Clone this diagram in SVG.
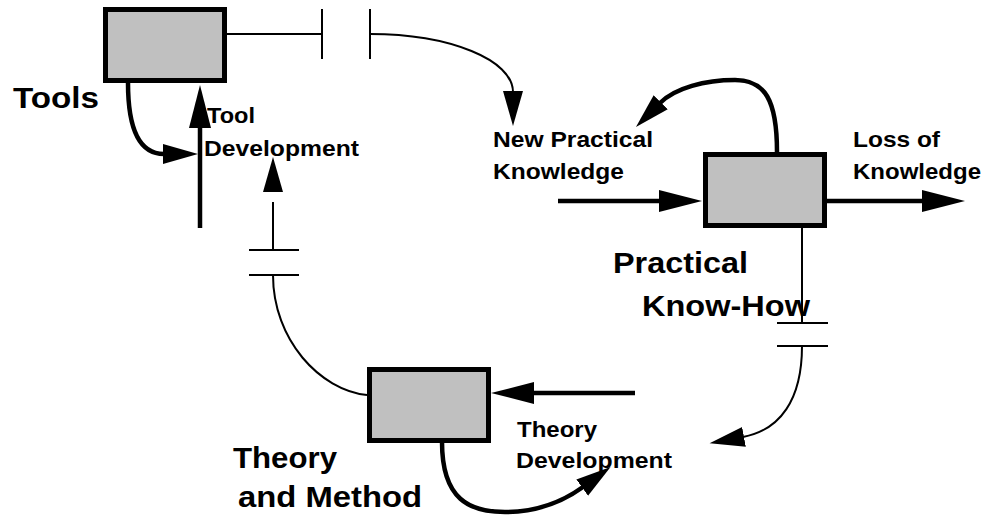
<svg xmlns="http://www.w3.org/2000/svg" width="992" height="520" viewBox="0 0 992 520">
<defs>
<style>
.box{fill:#c0c0c0;stroke:#000;stroke-width:5}
.flow{fill:none;stroke:#000;stroke-width:4.5}
.thin{fill:none;stroke:#000;stroke-width:2}
.tip{fill:#000;stroke:none}
text{font-family:"Liberation Sans",Arial,Helvetica,sans-serif;font-weight:bold;fill:#000}
.big{font-size:29px}
.small{font-size:22px}
</style>
<marker id="hb" markerUnits="userSpaceOnUse" markerWidth="46" markerHeight="24" refX="1" refY="11" orient="auto">
<path d="M0,0 L43,11 L0,22 z" fill="#000"/>
</marker>
<marker id="hs" markerUnits="userSpaceOnUse" markerWidth="38" markerHeight="22" refX="1" refY="10" orient="auto">
<path d="M0,0 L35,10 L0,20 z" fill="#000"/>
</marker>
</defs>
<rect width="992" height="520" fill="#fff"/>

<g id="connectors">
<!-- Tools loop into Tool Development -->
<path class="flow" d="M128,83 C128,135 143,154 164,154" marker-end="url(#hs)"/>
<!-- Tool Development flow -->
<path class="flow" d="M200,228 L200,127" marker-end="url(#hb)"/>
<!-- Tools to New Practical Knowledge (delayed) -->
<path class="thin" d="M227,34 H322 M322,9 V59 M370,9 V59"/>
<path class="thin" d="M370,34 C450,34 513,60 513,92" marker-end="url(#hs)"/>
<!-- inflow into Practical Know-How -->
<path class="flow" d="M558,201 H660" marker-end="url(#hb)"/>
<!-- Loss of Knowledge outflow -->
<path class="flow" d="M827,201 H923" marker-end="url(#hb)"/>
<!-- loop from Practical Know-How to New Practical Knowledge -->
<path class="flow" d="M777,152 C777,100 765,80 735,80 C705,80 675,88 660,103" marker-end="url(#hs)"/>
<!-- Practical Know-How to Theory Development (delayed) -->
<path class="thin" d="M802,227 V323 M777,323 H828 M777,346 H828"/>
<path class="thin" d="M802,346 C802,400 780,430 743,437" marker-end="url(#hs)"/>
<!-- inflow into Theory and Method -->
<path class="flow" d="M635,393 H533" marker-end="url(#hb)"/>
<!-- Theory loop into Theory Development -->
<path class="flow" d="M442,442 C442,500 470,512 505,512 C540,512 565,500 583,487" marker-end="url(#hs)"/>
<!-- Theory and Method to Tool Development (delayed) -->
<path class="thin" d="M367,395 C320,390 273,340 273,275 M249,275 H299 M249,250 H299 M273,250 V202"/>
<polygon class="tip" points="273,157 263,192 283,192"/>
</g>

<g id="tools">
<rect class="box" x="105.5" y="9.5" width="119" height="71"/>
<text class="big" x="13" y="108" textLength="86" lengthAdjust="spacingAndGlyphs">Tools</text>
</g>

<g id="tool-development">
<text class="small" x="207" y="123" textLength="48" lengthAdjust="spacingAndGlyphs">Tool</text>
<text class="small" x="204" y="156" textLength="155" lengthAdjust="spacingAndGlyphs">Development</text>
</g>

<g id="new-practical-knowledge">
<text class="small" x="493" y="147" textLength="160" lengthAdjust="spacingAndGlyphs">New Practical</text>
<text class="small" x="493" y="179" textLength="131" lengthAdjust="spacingAndGlyphs">Knowledge</text>
</g>

<g id="practical-know-how">
<rect class="box" x="705.5" y="154.5" width="119" height="71"/>
<text class="big" x="613" y="273" textLength="135" lengthAdjust="spacingAndGlyphs">Practical</text>
<text class="big" x="642" y="316" textLength="168" lengthAdjust="spacingAndGlyphs">Know-How</text>
</g>

<g id="loss-of-knowledge">
<text class="small" x="853" y="147" textLength="87" lengthAdjust="spacingAndGlyphs">Loss of</text>
<text class="small" x="853" y="179" textLength="128" lengthAdjust="spacingAndGlyphs">Knowledge</text>
</g>

<g id="theory-and-method">
<rect class="box" x="369.5" y="369.5" width="119" height="71"/>
<text class="big" x="233" y="468" textLength="104" lengthAdjust="spacingAndGlyphs">Theory</text>
<text class="big" x="238" y="507" textLength="184" lengthAdjust="spacingAndGlyphs">and Method</text>
</g>

<g id="theory-development">
<text class="small" x="517" y="437" textLength="80" lengthAdjust="spacingAndGlyphs">Theory</text>
<text class="small" x="516" y="468" textLength="156" lengthAdjust="spacingAndGlyphs">Development</text>
</g>
</svg>
